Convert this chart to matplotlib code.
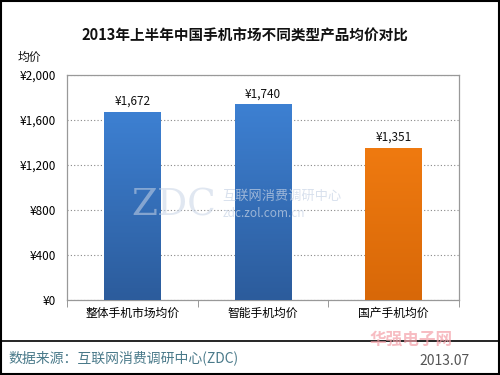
import matplotlib
matplotlib.use("Agg")
import matplotlib.pyplot as plt
import numpy as np
from matplotlib.colors import LinearSegmentedColormap
from matplotlib.patches import Rectangle

plt.rcParams['font.family'] = ['Noto Sans CJK SC', 'DejaVu Sans']

categories = ["整体手机市场均价", "智能手机均价", "国产手机均价"]
values = [1672, 1740, 1351]
labels = ["¥1,672", "¥1,740", "¥1,351"]
yticks = [0, 400, 800, 1200, 1600, 2000]
ytick_labels = ["¥0", "¥400", "¥800", "¥1,200", "¥1,600", "¥2,000"]
title = "2013年上半年中国手机市场不同类型产品均价对比"
source = "数据来源：互联网消费调研中心(ZDC)"
date = "2013.07"

grad_top = ["#3d80d2", "#3d80d2", "#ef7a10"]
grad_bot = ["#2c5c9c", "#2c5c9c", "#d86808"]

fig = plt.figure(figsize=(5, 3.75), dpi=100)
fig.patch.set_facecolor("white")
ax = fig.add_axes([0.134, 0.2, 0.784, 0.6])

x = np.arange(len(categories))
bars = ax.bar(x, values, width=0.435, color="none", zorder=3)
for b, ct, cb in zip(bars, grad_top, grad_bot):
    cmap = LinearSegmentedColormap.from_list("g", [cb, ct])
    grad = np.linspace(0, 1, 100).reshape(-1, 1)
    im = ax.imshow(grad, cmap=cmap, aspect="auto", origin="lower",
                   extent=[b.get_x(), b.get_x() + b.get_width(), 0, b.get_height()],
                   zorder=3)
    im.set_clip_path(b)

for xi, v, lab in zip(x, values, labels):
    ax.text(xi, v + 35, lab, ha="center", va="bottom", fontsize=8.5, color="#111111")

ax.set_xlim(-0.5, 2.5)
ax.set_ylim(0, 2000)
ax.set_yticks(yticks)
ax.set_yticklabels(ytick_labels, fontsize=8.5)
ax.set_xticks(x)
ax.set_xticklabels(categories, fontsize=8.5)
ax.tick_params(axis="y", length=0, pad=8)
ax.tick_params(axis="x", length=0, pad=5)
ax.set_xticks([-0.5, 0.5, 1.5, 2.5], minor=True)
ax.tick_params(axis="x", which="minor", length=5, color="#888888")
ax.yaxis.grid(True, linestyle=(0, (1, 2)), color="#888888", linewidth=0.8, zorder=0)
for s in ax.spines.values():
    s.set_color("#999999")
    s.set_linewidth(0.9)

# watermark
fig.text(0.262, 0.425, "ZDC", fontsize=27, color="#c8d4e6", alpha=0.55,
         family="DejaVu Serif", zorder=5)
fig.text(0.445, 0.475, "互联网消费调研中心", fontsize=9.5, color="#c8d4e6", alpha=0.7,
         zorder=5, va="center")
fig.text(0.445, 0.43, "zdc.zol.com.cn", fontsize=8.5, color="#c8d4e6", alpha=0.7,
         zorder=5, va="center")

fig.text(0.49, 0.905, title, ha="center", va="center", fontsize=10.5, fontweight="bold",
         color="#111111")
fig.text(0.036, 0.848, "均价", fontsize=8.5, va="center", color="#111111")

fig.add_artist(plt.Line2D([0.0, 1.0], [0.09, 0.09], color="black", linewidth=1.2,
                          transform=fig.transFigure))
fig.text(0.74, 0.093, "华强电子网", fontsize=12, fontweight="bold", color="#f4a0a8", alpha=0.7,
         va="center")
fig.text(0.016, 0.045, source, fontsize=10, color="#4a7a8a", va="center")
fig.text(0.94, 0.038, date, fontsize=10, color="#555555", va="center", ha="right")

fig.add_artist(Rectangle((0.002, 0.003), 0.995, 0.994, transform=fig.transFigure,
                         fill=False, edgecolor="black", linewidth=1.5))

fig.savefig("out.png", dpi=100)
